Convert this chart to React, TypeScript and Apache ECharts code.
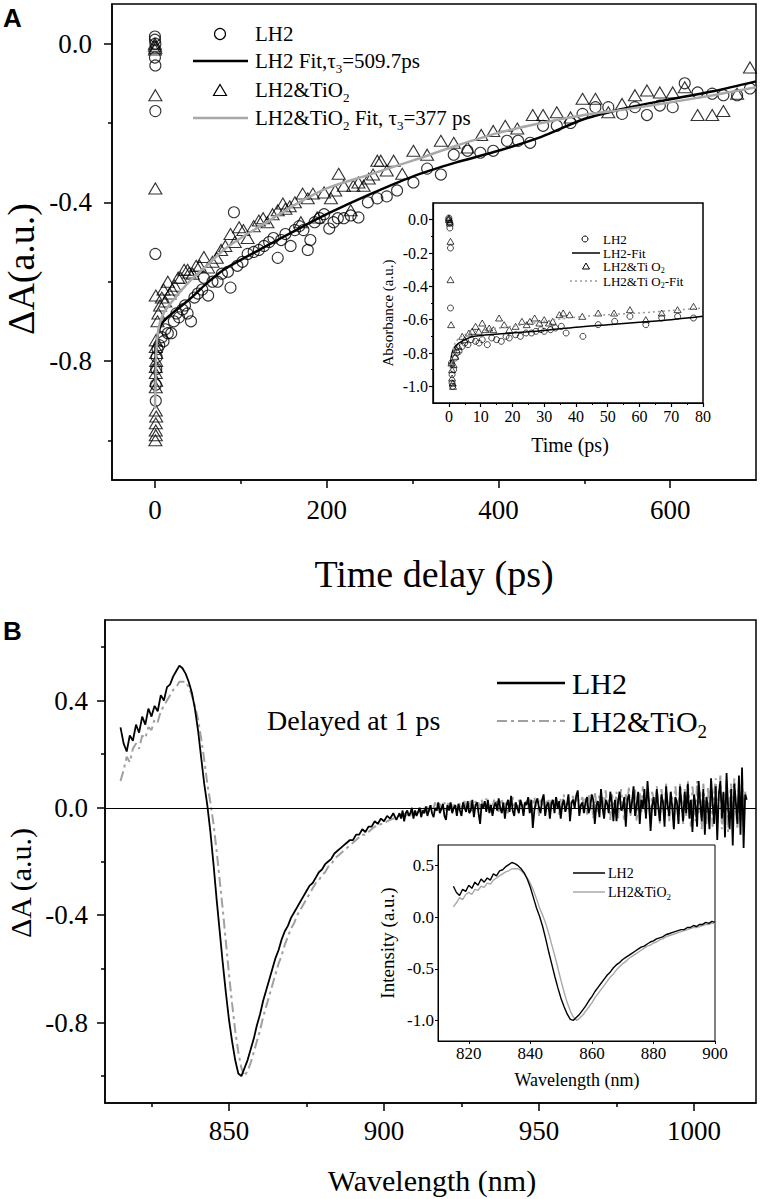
import React, { useEffect, useRef } from 'react';
import * as echarts from 'echarts';

const SERIF = '"Liberation Serif", "Times New Roman", serif';
const SANS = '"Liberation Sans", Arial, sans-serif';

// ---------- Panel A (main) ----------
const lh2Circles: [number, number][] = [
  [0, 0.018], [0, 0.01], [0.5, 0.0], [0, -0.035], [0.5, -0.055], [0.5, -0.17], [0.5, -0.53], [1, -0.9], [1, -0.86],
  [1.5, -0.82], [2, -0.79], [3, -0.77], [5, -0.76], [8, -0.74], [10, -0.75], [12, -0.72], [15, -0.73], [19, -0.73],
  [22, -0.7], [25, -0.68], [28, -0.69], [32, -0.67], [35, -0.66], [38, -0.68], [42, -0.7], [46, -0.64], [50, -0.63],
  [55, -0.62], [57, -0.59], [62, -0.635], [67, -0.6], [73, -0.6], [78, -0.58], [85, -0.575], [88, -0.615], [92, -0.425],
  [96, -0.56], [102, -0.55], [108, -0.53], [115, -0.525], [121, -0.52], [127, -0.51], [133, -0.5], [138, -0.49],
  [143, -0.54], [147, -0.495], [152, -0.48], [158, -0.51], [163, -0.47], [168, -0.46], [173, -0.47], [178, -0.52],
  [181, -0.495], [186, -0.45], [192, -0.44], [197, -0.43], [203, -0.466], [208, -0.45], [213, -0.44], [220, -0.44],
  [228, -0.433], [237, -0.438], [248, -0.4], [259, -0.39], [270, -0.385], [282, -0.37], [301, -0.35], [317, -0.315],
  [333, -0.33], [348, -0.28], [364, -0.27], [379, -0.275], [394, -0.27], [410, -0.245], [423, -0.245], [437, -0.25],
  [452, -0.207], [468, -0.207], [484, -0.2], [498, -0.177], [513, -0.16], [528, -0.16], [544, -0.177], [559, -0.16],
  [573, -0.18], [588, -0.156], [603, -0.16], [617, -0.1], [632, -0.123], [649, -0.126], [662, -0.13], [678, -0.13],
  [693, -0.113],
];

const tio2Triangles: [number, number][] = [
  [0, 0.0], [0, -0.005], [0.5, -0.01], [0, -0.015], [0.5, -0.13], [0.5, -0.365], [1, -0.635], [1, -0.748], [1, -0.765],
  [1.5, -0.78], [1.5, -0.8], [1, -0.815], [1, -0.83], [1.5, -0.85], [1, -0.866], [1, -0.925], [1.5, -0.94], [1, -0.957],
  [1, -0.975], [1, -0.987], [0.5, -1.0], [3, -0.7], [4, -0.68], [6, -0.66], [8, -0.64], [10, -0.62], [12, -0.65],
  [15, -0.6], [17, -0.63], [20, -0.62], [23, -0.61], [27, -0.59], [30, -0.59], [34, -0.57], [38, -0.57], [40, -0.577],
  [44, -0.58], [48, -0.56], [52, -0.56], [57, -0.538], [62, -0.564], [67, -0.55], [72, -0.54], [77, -0.52], [82, -0.51],
  [88, -0.48], [93, -0.5], [98, -0.463], [103, -0.47], [108, -0.49], [115, -0.46], [121, -0.446], [126, -0.44],
  [131, -0.45], [137, -0.43], [143, -0.42], [149, -0.403], [152, -0.416], [157, -0.41], [163, -0.4], [170, -0.45],
  [172, -0.378], [178, -0.39], [184, -0.378], [189, -0.438], [197, -0.375], [205, -0.39], [210, -0.37], [214, -0.328],
  [220, -0.358], [228, -0.42], [231, -0.358], [237, -0.35], [243, -0.358], [249, -0.34], [254, -0.33], [259, -0.295],
  [263, -0.295], [270, -0.32], [278, -0.295], [288, -0.328], [301, -0.27], [317, -0.28], [333, -0.245], [348, -0.25],
  [364, -0.262], [380, -0.23], [394, -0.22], [408, -0.207], [422, -0.214], [440, -0.18], [452, -0.18], [468, -0.173],
  [484, -0.186], [498, -0.139], [513, -0.139], [528, -0.173], [544, -0.152], [559, -0.13], [573, -0.118], [588, -0.123],
  [603, -0.123], [617, -0.11], [632, -0.18], [649, -0.18], [662, -0.17], [678, -0.126], [693, -0.06],
];

const lh2Fit: [number, number][] = [
  [0, -0.88], [1, -0.78], [2, -0.75], [5, -0.72], [10, -0.7], [20, -0.68], [40, -0.645], [60, -0.605], [80, -0.57],
  [100, -0.545], [130, -0.51], [160, -0.475], [200, -0.43], [250, -0.38], [300, -0.335], [350, -0.3], [400, -0.27],
  [450, -0.235], [500, -0.19], [550, -0.162], [600, -0.14], [650, -0.12], [700, -0.095],
];

const tio2Fit: [number, number][] = [
  [0, -0.92], [1, -0.82], [2, -0.76], [5, -0.71], [10, -0.68], [20, -0.65], [40, -0.6], [60, -0.56], [80, -0.52],
  [100, -0.49], [130, -0.45], [160, -0.41], [200, -0.365], [250, -0.33], [300, -0.295], [350, -0.258], [400, -0.225],
  [450, -0.2], [500, -0.18], [550, -0.165], [600, -0.148], [650, -0.13], [700, -0.11],
];

// ---------- Panel A (inset) ----------
const insetLh2: [number, number][] = [
  [0, 0.01], [0, 0.0], [0.3, -0.02], [0.3, -0.05], [0.5, -0.17], [0.5, -0.53], [0.8, -0.86], [1, -0.93], [1, -0.98],
  [1.2, -1.0], [1.5, -0.9], [2, -0.83], [2.5, -0.8], [3.2, -0.79], [4.2, -0.76], [5, -0.74], [6, -0.75], [7, -0.72],
  [8.4, -0.73], [9.5, -0.74], [10.5, -0.72], [12.1, -0.75], [13.5, -0.71], [15, -0.72], [16.5, -0.73], [18, -0.7],
  [19, -0.71], [21, -0.69], [22.5, -0.7], [24.3, -0.68], [26, -0.68], [27.4, -0.67], [29, -0.66], [30, -0.67],
  [32, -0.66], [33.5, -0.65], [35.4, -0.64], [36.9, -0.68], [42.2, -0.7], [47, -0.63], [52.2, -0.61], [57, -0.58],
  [62, -0.63], [67, -0.59], [72, -0.58], [77, -0.59],
];

const insetTio2: [number, number][] = [
  [0, 0.01], [0, 0.0], [0.3, -0.01], [0.3, -0.02], [0.5, -0.13], [0.5, -0.36], [0.7, -0.63], [0.8, -0.86], [1, -0.9],
  [1, -0.95], [1.2, -0.98], [1.3, -1.0], [1.5, -0.87], [2, -0.82], [2.5, -0.78], [3, -0.76], [4.2, -0.7], [5, -0.72],
  [6.3, -0.68], [7.3, -0.67], [8.4, -0.64], [9.4, -0.67], [10.5, -0.62], [11.5, -0.66], [12.7, -0.65], [14, -0.66],
  [15.8, -0.59], [17.4, -0.63], [19, -0.66], [21, -0.64], [23, -0.61], [24.5, -0.63], [25.5, -0.61], [27, -0.59],
  [28.5, -0.62], [30, -0.6], [31.5, -0.62], [32.7, -0.61], [34.8, -0.57], [36, -0.56], [38, -0.57], [42, -0.58],
  [47, -0.56], [52, -0.56], [57, -0.54], [62, -0.6], [67, -0.56], [72, -0.54], [77, -0.52],
];

const insetLh2Fit: [number, number][] = [
  [0.5, -0.87], [1, -0.8], [2, -0.76], [4, -0.73], [8, -0.7], [20, -0.68], [30, -0.665], [40, -0.645], [50, -0.63],
  [60, -0.615], [70, -0.6], [80, -0.58],
];

const insetTio2Fit: [number, number][] = [
  [0.5, -0.9], [1, -0.82], [2, -0.74], [4, -0.7], [8, -0.67], [20, -0.64], [30, -0.61], [40, -0.585], [50, -0.57],
  [60, -0.56], [70, -0.545], [80, -0.53],
];

// ---------- Panel B spectra: 1 nm steps 815–904 nm, then 0.5 nm steps 905–1017 nm ----------
const headStart = 815;
const tailStart = 905;
const lh2Head: number[] = [
  0.30, 0.24, 0.21, 0.27, 0.25, 0.31, 0.28, 0.34, 0.31, 0.37, 0.34, 0.38, 0.36, 0.42, 0.40, 0.45, 0.46, 0.49, 0.51, 0.53,
  0.52, 0.50, 0.47, 0.43, 0.37, 0.29, 0.19, 0.09, 0.01, -0.09, -0.21, -0.34, -0.46, -0.58, -0.69, -0.79, -0.87, -0.94, -0.99, -1.00,
  -0.97, -0.94, -0.90, -0.86, -0.81, -0.77, -0.72, -0.68, -0.64, -0.60, -0.56, -0.53, -0.49, -0.46, -0.44, -0.41, -0.39, -0.37, -0.35, -0.33,
  -0.31, -0.29, -0.28, -0.26, -0.24, -0.23, -0.21, -0.20, -0.19, -0.17, -0.16, -0.15, -0.14, -0.13, -0.12, -0.12, -0.10, -0.10, -0.08, -0.09,
  -0.07, -0.07, -0.05, -0.06, -0.04, -0.05, -0.03, -0.04, -0.02, -0.045,
];
const lh2Tail: number[] = [
  -0.02, -0.04, -0.01, -0.05, -0.02, -0.01, -0.03, -0.02, 0.0, -0.04, -0.01, -0.03, -0.015, 0.0, -0.035, -0.01, -0.02, 0.005, -0.03, -0.01,
  0.01, -0.02, -0.035, 0.0, -0.01, 0.02, -0.02, -0.005, 0.015, -0.03, -0.045, 0.01, -0.01, 0.02, -0.02, 0.0, 0.01, -0.03, 0.015, -0.01,
  -0.03, 0.02, 0.0, -0.015, 0.025, -0.02, -0.01, 0.03, -0.035, 0.01, 0.02, -0.02, -0.06, 0.015, 0.0, 0.025, -0.015, 0.03, -0.02, 0.01,
  -0.03, 0.005, 0.02, -0.01, 0.035, 0.0, -0.02, 0.02, -0.04, 0.01, 0.03, -0.015, 0.045, -0.01, -0.03, 0.02, 0.0, -0.02, 0.03, 0.01,
  -0.03, 0.02, 0.01, 0.04, -0.02, 0.03, -0.075, -0.01, 0.02, 0.035, 0.0, -0.02, 0.03, 0.05, -0.03, 0.01, 0.02, -0.04, 0.015, 0.03,
  -0.02, 0.04, 0.0, 0.025, -0.04, 0.01, 0.03, -0.015, 0.01, 0.05, -0.05, 0.02, 0.03, 0.0, 0.045, 0.065, -0.03, 0.01, 0.02, -0.02,
  0.02, 0.04, -0.02, 0.0, 0.05, 0.03, -0.06, 0.01, 0.025, -0.035, 0.07, 0.0, -0.04, 0.03, 0.015, -0.02, 0.06, 0.02, -0.05, 0.03,
  -0.05, 0.02, 0.06, -0.01, 0.0, 0.04, -0.07, 0.03, 0.05, -0.02, 0.02, 0.08, -0.03, 0.01, 0.06, -0.06, 0.03, 0.0, 0.07, -0.04,
  0.10, 0.02, -0.086, 0.01, 0.04, -0.03, 0.07, 0.0, -0.05, 0.05, 0.02, -0.07, 0.08, 0.01, -0.03, 0.06, 0.0, -0.08, 0.04, 0.02,
  -0.06, 0.08, 0.01, -0.05, 0.06, -0.02, 0.09, -0.04, 0.03, -0.09, 0.05, 0.01, -0.07, 0.1, 0.02, -0.05, 0.07, -0.1, 0.04, 0.0,
  -0.08, 0.11, 0.02, -0.06, 0.08, -0.12, 0.05, 0.1, -0.04, 0.06, -0.11, 0.13, 0.0, -0.08, 0.07, -0.14, 0.09, 0.02, -0.06, 0.12,
  -0.1, 0.15, -0.15, 0.05, 0.03,
];
const tio2Head: number[] = [
  0.10, 0.14, 0.19, 0.17, 0.22, 0.24, 0.22, 0.27, 0.26, 0.30, 0.29, 0.33, 0.32, 0.36, 0.38, 0.40, 0.42, 0.44, 0.45, 0.47,
  0.47, 0.47, 0.45, 0.42, 0.38, 0.33, 0.26, 0.18, 0.09, 0.02, -0.06, -0.16, -0.27, -0.38, -0.50, -0.62, -0.73, -0.83, -0.91, -0.97,
  -1.00, -0.98, -0.95, -0.91, -0.87, -0.83, -0.78, -0.74, -0.70, -0.66, -0.62, -0.58, -0.55, -0.51, -0.48, -0.45, -0.43, -0.40, -0.38, -0.36,
  -0.34, -0.32, -0.30, -0.28, -0.27, -0.25, -0.24, -0.22, -0.21, -0.19, -0.18, -0.17, -0.16, -0.15, -0.14, -0.13, -0.12, -0.11, -0.10, -0.10,
  -0.09, -0.08, -0.07, -0.07, -0.06, -0.06, -0.05, -0.045, -0.04, -0.035,
];
const tio2Tail: number[] = [
  -0.03, -0.02, -0.035, -0.02, -0.04, -0.015, -0.02, -0.03, -0.01, -0.02, -0.025, -0.01, -0.02, 0.0, -0.01, -0.02, 0.0, -0.01, 0.005, -0.015,
  0.01, -0.005, 0.0, 0.02, -0.01, 0.005, 0.015, -0.005, 0.0, 0.02, -0.01, 0.01, 0.025, 0.0, -0.015, 0.02, 0.005, 0.01, -0.01, 0.02,
  0.0, 0.015, 0.025, -0.01, 0.02, 0.005, 0.03, 0.0, -0.02, 0.025, 0.01, 0.02, -0.01, 0.03, 0.005, 0.015, 0.035, -0.005, 0.02, 0.01,
  0.0, 0.03, 0.01, 0.025, -0.015, 0.02, 0.035, 0.0, 0.02, 0.01, -0.02, 0.03, 0.015, 0.04, 0.0, 0.02, -0.01, 0.03, 0.01, 0.025,
  -0.015, 0.03, 0.02, 0.0, 0.035, -0.02, 0.01, 0.04, 0.005, 0.025, -0.03, 0.03, 0.01, 0.045, 0.0, 0.02, 0.035, -0.02, 0.03, 0.01,
  0.0, 0.04, 0.015, -0.025, 0.035, 0.01, 0.05, -0.01, 0.025, 0.04, -0.035, 0.02, 0.045, 0.0, 0.03, 0.055, -0.02, 0.02, 0.04, 0.0,
  0.035, -0.03, 0.05, 0.01, 0.03, -0.04, 0.06, 0.015, -0.02, 0.05, 0.0, 0.04, -0.03, 0.065, 0.01, 0.03, -0.045, 0.05, 0.02, 0.0,
  0.06, -0.04, 0.03, 0.07, 0.0, -0.05, 0.05, 0.02, 0.075, -0.03, 0.04, 0.0, 0.07, -0.05, 0.03, 0.06, -0.02, 0.08, 0.01, -0.04,
  0.07, 0.0, -0.05, 0.06, 0.03, -0.03, 0.08, 0.01, -0.06, 0.07, 0.02, -0.04, 0.09, 0.0, -0.05, 0.06, 0.03, -0.07, 0.08, 0.01,
  -0.05, 0.09, 0.02, -0.06, 0.07, -0.03, 0.1, 0.0, -0.07, 0.08, 0.02, -0.05, 0.1, -0.02, 0.06, -0.08, 0.09, 0.01, -0.06, 0.08,
  -0.04, 0.1, -0.07, 0.05, 0.11, -0.06, 0.03, 0.12, -0.08, 0.06, -0.03, 0.1, -0.09, 0.04, 0.09, -0.07, 0.11, 0.0, -0.08, 0.1,
  -0.05, 0.11, -0.07, 0.06, 0.02,
];

// ---------- tick labels ----------
const aXLabels = [0, 200, 400, 600];
const aXMinor = [100, 300, 500];
const aYLabels = [0, -0.4, -0.8];
const aYMinor = [-0.2, -0.6, -1.0];
const aiXLabels = [0, 10, 20, 30, 40, 50, 60, 70, 80];
const aiXMinor = [5, 15, 25, 35, 45, 55, 65, 75];
const aiYLabels = [0, -0.2, -0.4, -0.6, -0.8, -1.0];
const aiYMinor = [-0.1, -0.3, -0.5, -0.7, -0.9];
const bXLabels = [850, 900, 950, 1000];
const bXMinor = [825, 875, 925, 975];
const bYLabels = [0.4, 0, -0.4, -0.8];
const bYMinor = [0.6, 0.2, -0.2, -0.6, -1.0];
const biXLabels = [820, 840, 860, 880, 900];
const biYLabels = [0.5, 0, -0.5, -1.0];

const spectrum = (head: number[], tail: number[]) => [
  ...head.map((v, i) => [headStart + i, v]),
  ...tail.map((v, i) => [tailStart + i * 0.5, v]),
];

let measureCtx: CanvasRenderingContext2D | null = null;
function tw(t: string, size: number): number {
  if (!measureCtx) measureCtx = document.createElement('canvas').getContext('2d');
  if (!measureCtx) return t.length * size * 0.5;
  measureCtx.font = `${size}px ${SERIF}`;
  return measureCtx.measureText(t).width;
}

type Part = { t: string; sub?: boolean };
function multiText(x: number, y: number, parts: Part[], size: number): any[] {
  let cx = x;
  const els: any[] = [];
  for (const p of parts) {
    const s = p.sub ? Math.round(size * 0.62) : size;
    els.push({
      type: 'text', x: cx, y: y + (p.sub ? size * 0.34 : 0), z: 100,
      style: { text: p.t, fontSize: s, fontFamily: SERIF, fill: '#000', textAlign: 'left', textVerticalAlign: 'middle', align: 'left', verticalAlign: 'middle' },
    });
    cx += tw(p.t, s);
  }
  return els;
}

function plainText(x: number, y: number, text: string, size: number, opts: any = {}): any {
  return {
    type: 'text', x, y, z: 100, rotation: opts.rotation || 0,
    style: {
      text, fontSize: size, fontFamily: opts.family || SERIF, fontWeight: opts.weight || 'normal', fill: '#000',
      textAlign: opts.align || 'center', align: opts.align || 'center', textVerticalAlign: 'middle', verticalAlign: 'middle',
    },
  };
}

function hline(x1: number, x2: number, y: number, color: string, width: number, dash?: any): any {
  return { type: 'line', z: 100, shape: { x1, y1: y, x2, y2: y }, style: { stroke: color, lineWidth: width, lineDash: dash } };
}
function circ(cx: number, cy: number, r: number, w: number): any {
  return { type: 'circle', z: 100, shape: { cx, cy, r }, style: { fill: 'none', stroke: '#000', lineWidth: w } };
}
function tri(cx: number, cy: number, w: number, h: number, lw: number): any {
  return {
    type: 'polygon', z: 100,
    shape: { points: [[cx, cy - h / 2], [cx + w / 2, cy + h / 2], [cx - w / 2, cy + h / 2]] },
    style: { fill: 'none', stroke: '#000', lineWidth: lw },
  };
}

function axis(o: {
  grid: number; min: number; max: number; pos: string; labels?: number[]; ticks: number[]; tickLen: number;
  fs?: number; margin?: number; minor?: boolean; z?: number; lw?: number; fmt?: (v: number) => string;
}): any {
  const lw = o.lw ?? 1.5;
  return {
    type: 'value', gridIndex: o.grid, min: o.min, max: o.max, position: o.pos, z: o.z ?? 0, offset: 0,
    axisLine: { show: !o.minor, onZero: false, lineStyle: { color: '#000', width: lw } },
    axisTick: { show: true, inside: false, length: o.tickLen, customValues: o.ticks, lineStyle: { color: '#000', width: lw } },
    axisLabel: o.minor
      ? { show: false }
      : {
          show: true, customValues: o.labels, margin: o.margin, fontFamily: SERIF, fontSize: o.fs, color: '#000',
          formatter: o.fmt || ((v: number) => String(v)),
        },
    splitLine: { show: false },
    minorTick: { show: false },
  };
}

const f1 = (v: number) => (Math.abs(v) < 1e-9 ? '0.0' : v.toFixed(1));

export default function App() {
  const ref = useRef<HTMLDivElement>(null);
  useEffect(() => {
    document.body.style.margin = '0';
    const chart = echarts.init(ref.current!, undefined, { renderer: 'svg' });

    const lh2Spec = spectrum(lh2Head, lh2Tail);
    const tio2Spec = spectrum(tio2Head, tio2Tail);
    const upTo900 = (d: number[][]) => d.filter((p) => p[0] <= 900);

    const graphic: any[] = [
      plainText(3, 18, 'A', 26, { align: 'left', family: SANS, weight: 'bold' }),
      plainText(3, 631, 'B', 26, { align: 'left', family: SANS, weight: 'bold' }),
      // axis titles
      plainText(21, 269, 'ΔA(a.u.)', 38, { rotation: Math.PI / 2 }),
      plainText(434, 574, 'Time delay (ps)', 38),
      plainText(570, 445, 'Time (ps)', 20),
      plainText(388, 313, 'Absorbance (a.u.)', 15, { rotation: Math.PI / 2 }),
      plainText(20, 883, 'ΔA (a.u.)', 30, { rotation: Math.PI / 2 }),
      plainText(432, 1180, 'Wavelength (nm)', 30),
      plainText(387, 943, 'Intensity (a.u.)', 19, { rotation: Math.PI / 2 }),
      plainText(577, 1080, 'Wavelength (nm)', 18),
      // panel A legend
      circ(220, 34, 5.5, 1.2),
      ...multiText(255, 34, [{ t: 'LH2' }], 21),
      hline(193, 248, 61, '#000', 2.5),
      ...multiText(255, 61, [{ t: 'LH2 Fit,τ' }, { t: '3', sub: true }, { t: '=509.7ps' }], 21),
      tri(220, 90, 13, 11, 1.2),
      ...multiText(255, 90, [{ t: 'LH2&TiO' }, { t: '2', sub: true }], 21),
      hline(193, 248, 118, '#a8a8a8', 2.5),
      ...multiText(255, 118, [{ t: 'LH2&TiO' }, { t: '2', sub: true }, { t: ' Fit, τ' }, { t: '3', sub: true }, { t: '=377 ps' }], 21),
      // inset A legend
      circ(585, 239, 3, 1),
      ...multiText(603, 239, [{ t: 'LH2' }], 13),
      hline(572, 600, 253, '#000', 1.5),
      ...multiText(603, 253, [{ t: 'LH2-Fit' }], 13),
      tri(586, 266, 7, 6, 1),
      ...multiText(603, 266, [{ t: 'LH2&Ti O' }, { t: '2', sub: true }], 13),
      hline(570, 600, 281, '#999', 1.5, [2, 3]),
      ...multiText(603, 281, [{ t: 'LH2&Ti O' }, { t: '2', sub: true }, { t: '-Fit' }], 13),
      // panel B legend and note
      plainText(267, 720, 'Delayed at 1 ps', 28, { align: 'left' }),
      hline(497, 565, 683, '#000', 2.5),
      ...multiText(572, 683, [{ t: 'LH2' }], 30),
      hline(497, 565, 721, '#a0a0a0', 2, [10, 4, 3, 4]),
      ...multiText(572, 721, [{ t: 'LH2&TiO' }, { t: '2', sub: true }], 30),
      // inset B legend
      hline(573, 605, 873, '#000', 1.5),
      ...multiText(608, 873, [{ t: 'LH2' }], 14),
      hline(573, 605, 892, '#a8a8a8', 1.5),
      ...multiText(608, 892, [{ t: 'LH2&TiO' }, { t: '2', sub: true }], 14),
    ];

    const zeroLine = (w: number) => ({
      silent: true, symbol: 'none', label: { show: false },
      lineStyle: { color: '#000', width: w, type: 'solid' }, data: [{ yAxis: 0 }],
    });

    const option: any = {
      animation: false,
      backgroundColor: '#fff',
      textStyle: { fontFamily: SERIF },
      grid: [
        { left: 112, top: 4, width: 644, height: 476, show: true, borderColor: '#000', borderWidth: 1.5, backgroundColor: 'transparent', z: 0 },
        { left: 433, top: 203, width: 270, height: 200, show: true, borderColor: '#000', borderWidth: 1.5, backgroundColor: '#fff', z: 10 },
        { left: 105, top: 620, width: 651, height: 483, show: true, borderColor: '#000', borderWidth: 1.5, backgroundColor: 'transparent', z: 0 },
        { left: 438, top: 845, width: 277, height: 196, show: true, borderColor: '#000', borderWidth: 1, backgroundColor: '#fff', z: 10 },
      ],
      xAxis: [
        axis({ grid: 0, min: -50, max: 700, pos: 'bottom', labels: aXLabels, ticks: aXLabels, tickLen: 8, fs: 27, margin: 16 }),
        axis({ grid: 0, min: -50, max: 700, pos: 'bottom', ticks: aXMinor, tickLen: 4, minor: true }),
        axis({ grid: 1, min: -5, max: 80, pos: 'bottom', labels: aiXLabels, ticks: aiXLabels, tickLen: 4, fs: 16, margin: 5, z: 12, lw: 1.2 }),
        axis({ grid: 1, min: -5, max: 80, pos: 'bottom', ticks: aiXMinor, tickLen: 2, minor: true, z: 12, lw: 1 }),
        axis({ grid: 2, min: 810, max: 1020, pos: 'bottom', labels: bXLabels, ticks: bXLabels, tickLen: 8, fs: 27, margin: 14 }),
        axis({ grid: 2, min: 810, max: 1020, pos: 'bottom', ticks: bXMinor, tickLen: 4, minor: true }),
        axis({ grid: 3, min: 810, max: 900, pos: 'bottom', labels: biXLabels, ticks: biXLabels, tickLen: 3, fs: 17, margin: 4, z: 12, lw: 1 }),
      ],
      yAxis: [
        axis({ grid: 0, min: -1.1, max: 0.1, pos: 'left', labels: aYLabels, ticks: aYLabels, tickLen: 8, fs: 27, margin: 20, fmt: f1 }),
        axis({ grid: 0, min: -1.1, max: 0.1, pos: 'left', ticks: aYMinor, tickLen: 4, minor: true }),
        axis({ grid: 1, min: -1.1, max: 0.1, pos: 'left', labels: aiYLabels, ticks: aiYLabels, tickLen: 4, fs: 16, margin: 5, z: 12, lw: 1.2, fmt: f1 }),
        axis({ grid: 1, min: -1.1, max: 0.1, pos: 'left', ticks: aiYMinor, tickLen: 2, minor: true, z: 12, lw: 1 }),
        axis({ grid: 2, min: -1.1, max: 0.7, pos: 'left', labels: bYLabels, ticks: bYLabels, tickLen: 8, fs: 27, margin: 17, fmt: f1 }),
        axis({ grid: 2, min: -1.1, max: 0.7, pos: 'left', ticks: bYMinor, tickLen: 4, minor: true }),
        axis({ grid: 3, min: -1.2, max: 0.7, pos: 'left', labels: biYLabels, ticks: biYLabels, tickLen: 3, fs: 17, margin: 4, z: 12, lw: 1, fmt: f1 }),
      ],
      series: [
        // Panel A main
        { name: 'LH2', type: 'scatter', xAxisIndex: 0, yAxisIndex: 0, data: lh2Circles, symbol: 'circle', symbolSize: 11,
          itemStyle: { color: 'rgba(255,255,255,0)', borderColor: '#000', borderWidth: 1.1 }, z: 2 },
        { name: 'LH2&TiO2', type: 'scatter', xAxisIndex: 0, yAxisIndex: 0, data: tio2Triangles, symbol: 'triangle', symbolSize: [13, 11],
          itemStyle: { color: 'rgba(255,255,255,0)', borderColor: '#000', borderWidth: 1.1 }, z: 2 },
        { name: 'LH2 Fit', type: 'line', xAxisIndex: 0, yAxisIndex: 0, data: lh2Fit, showSymbol: false, symbol: 'none', smooth: 0.3,
          lineStyle: { color: '#000', width: 2.5 }, z: 3 },
        { name: 'LH2&TiO2 Fit', type: 'line', xAxisIndex: 0, yAxisIndex: 0, data: tio2Fit, showSymbol: false, symbol: 'none', smooth: 0.3,
          lineStyle: { color: '#a8a8a8', width: 2.5 }, z: 3 },
        // Panel A inset
        { name: 'LH2 (inset)', type: 'scatter', xAxisIndex: 2, yAxisIndex: 2, data: insetLh2, symbol: 'circle', symbolSize: 6,
          itemStyle: { color: 'rgba(255,255,255,0)', borderColor: '#000', borderWidth: 0.9 }, z: 12 },
        { name: 'LH2&Ti O2 (inset)', type: 'scatter', xAxisIndex: 2, yAxisIndex: 2, data: insetTio2, symbol: 'triangle', symbolSize: [7, 6],
          itemStyle: { color: 'rgba(255,255,255,0)', borderColor: '#000', borderWidth: 0.9 }, z: 12 },
        { name: 'LH2-Fit', type: 'line', xAxisIndex: 2, yAxisIndex: 2, data: insetLh2Fit, showSymbol: false, symbol: 'none', smooth: 0.3,
          lineStyle: { color: '#000', width: 1.5 }, z: 13 },
        { name: 'LH2&Ti O2-Fit', type: 'line', xAxisIndex: 2, yAxisIndex: 2, data: insetTio2Fit, showSymbol: false, symbol: 'none', smooth: 0.3,
          lineStyle: { color: '#999', width: 1.5, type: [2, 3] }, z: 13 },
        // Panel B main
        { name: 'LH2&TiO2 spectrum', type: 'line', xAxisIndex: 4, yAxisIndex: 4, data: tio2Spec, showSymbol: false, symbol: 'none',
          lineStyle: { color: '#a0a0a0', width: 2, type: [10, 4, 3, 4] }, z: 2 },
        { name: 'LH2 spectrum', type: 'line', xAxisIndex: 4, yAxisIndex: 4, data: lh2Spec, showSymbol: false, symbol: 'none',
          lineStyle: { color: '#000', width: 1.8 }, z: 3, markLine: zeroLine(1.2) },
        // Panel B inset
        { name: 'LH2&TiO2 (inset)', type: 'line', xAxisIndex: 6, yAxisIndex: 6, data: upTo900(tio2Spec), showSymbol: false, symbol: 'none',
          lineStyle: { color: '#a8a8a8', width: 1.4 }, z: 12 },
        { name: 'LH2 (inset B)', type: 'line', xAxisIndex: 6, yAxisIndex: 6, data: upTo900(lh2Spec), showSymbol: false, symbol: 'none',
          lineStyle: { color: '#000', width: 1.4 }, z: 13, markLine: zeroLine(1) },
      ],
      graphic,
    };

    chart.setOption(option);
    return () => chart.dispose();
  }, []);
  return <div ref={ref} style={{ width: 761, height: 1199 }} />;
}
